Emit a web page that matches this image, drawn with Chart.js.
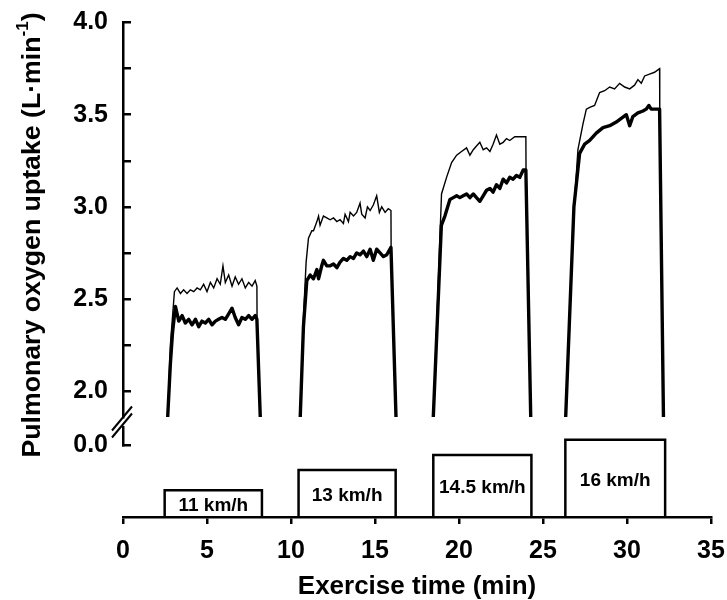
<!DOCTYPE html>
<html><head><meta charset="utf-8">
<script src="https://cdn.jsdelivr.net/npm/chart.js@4"></script>
<style>html,body{margin:0;padding:0;background:#fff}</style>
</head><body>
<canvas id="c" width="727" height="600"></canvas>
<script>
// ---- data ----
const xTicks = [0, 5, 10, 15, 20, 25, 30, 35];
const yTicks = [2.0, 2.25, 2.5, 2.75, 3.0, 3.25, 3.5, 3.75, 4.0];
const yTickLabels = ['2.0', '', '2.5', '', '3.0', '', '3.5', '', '4.0'];
const zeroTicks = [0];
const zeroTickLabels = ['0.0'];

const stageStart = [2.48, 10.45, 18.47, 26.33];
const stageEnd = [8.27, 16.23, 24.31, 32.27];
const stageSpeed = [11, 13, 14.5, 16];
const stageLabels = ['11 km/h', '13 km/h', '14.5 km/h', '16 km/h'];

const thinTime = [
  2.66, 2.82, 3.06, 3.22, 3.42, 3.61, 3.81, 4.01, 4.21, 4.41, 4.60, 4.80, 5.00, 5.20, 5.40, 5.60, 5.79, 5.95, 6.09, 6.29, 6.49, 6.68, 6.88, 7.08, 7.28, 7.48, 7.68, 7.87, 7.97, 7.98, 8.17, null,
  10.55, 10.74, 10.90, 11.04, 11.24, 11.34, 11.54, 11.64, 11.73, 11.93, 12.13, 12.33, 12.53, 12.73, 12.92, 13.12, 13.22, 13.42, 13.52, 13.72, 13.91, 14.11, 14.21, 14.41, 14.55, 14.71, 14.90, 15.10, 15.26, 15.40, 15.60, 15.79, 15.95, 15.96, 16.25, null,
  18.47, 18.96, 19.26, 19.56, 19.86, 20.15, 20.45, 20.65, 20.85, 21.04, 21.24, 21.44, 21.64, 21.84, 22.03, 22.23, 22.43, 22.63, 22.83, 23.02, 23.32, 23.62, 23.98, 23.99, 24.27, null,
  26.35, 26.84, 27.08, 27.38, 27.58, 27.78, 28.07, 28.37, 28.67, 28.97, 29.26, 29.56, 29.86, 30.16, 30.45, 30.65, 30.85, 31.05, 31.34, 31.64, 31.94, 31.95, 32.17
];
const thinVO2 = [
  1.86, 2.25, 2.54, 2.56, 2.53, 2.55, 2.53, 2.55, 2.54, 2.56, 2.55, 2.58, 2.54, 2.59, 2.56, 2.61, 2.58, 2.68, 2.59, 2.63, 2.57, 2.62, 2.58, 2.61, 2.56, 2.59, 2.57, 2.60, 2.57, 2.39, 1.86, null,
  1.86, 2.40, 2.70, 2.83, 2.87, 2.87, 2.92, 2.95, 2.90, 2.95, 2.94, 2.93, 2.94, 2.92, 2.93, 2.91, 2.96, 2.92, 2.97, 2.95, 2.97, 3.02, 2.96, 2.94, 3.00, 2.98, 3.01, 3.06, 2.97, 3.00, 2.97, 2.99, 2.98, 2.78, 1.86, null,
  1.86, 3.07, 3.16, 3.24, 3.28, 3.30, 3.32, 3.28, 3.31, 3.33, 3.35, 3.31, 3.32, 3.30, 3.34, 3.39, 3.34, 3.35, 3.37, 3.36, 3.38, 3.38, 3.38, 3.20, 1.86, null,
  1.86, 2.98, 3.31, 3.45, 3.53, 3.54, 3.55, 3.62, 3.63, 3.65, 3.64, 3.67, 3.65, 3.64, 3.66, 3.69, 3.67, 3.71, 3.72, 3.73, 3.75, 3.53, 1.86
];
const thickTime = [
  2.66, 2.82, 2.95, 3.12, 3.32, 3.52, 3.71, 3.91, 4.11, 4.31, 4.51, 4.70, 4.90, 5.10, 5.30, 5.50, 5.69, 5.89, 6.09, 6.29, 6.49, 6.68, 6.88, 7.08, 7.28, 7.48, 7.68, 7.87, 7.97, 8.17, null,
  10.55, 10.74, 10.94, 11.14, 11.34, 11.54, 11.64, 11.83, 11.93, 12.13, 12.33, 12.53, 12.73, 12.92, 13.12, 13.32, 13.52, 13.72, 13.91, 14.11, 14.31, 14.51, 14.71, 14.90, 15.10, 15.30, 15.50, 15.70, 15.95, 16.25, null,
  18.47, 18.95, 19.16, 19.46, 19.66, 19.86, 20.05, 20.25, 20.45, 20.65, 20.85, 21.04, 21.24, 21.44, 21.64, 21.84, 22.03, 22.23, 22.43, 22.63, 22.83, 23.02, 23.22, 23.42, 23.62, 23.82, 23.98, 24.27, null,
  26.35, 26.84, 27.18, 27.48, 27.78, 28.17, 28.57, 28.97, 29.36, 29.66, 29.96, 30.16, 30.35, 30.65, 30.95, 31.14, 31.30, 31.44, 31.74, 31.94, 32.17
];
const thickVO2 = [
  1.86, 2.15, 2.32, 2.46, 2.38, 2.41, 2.37, 2.39, 2.36, 2.39, 2.35, 2.38, 2.37, 2.39, 2.36, 2.38, 2.39, 2.40, 2.39, 2.42, 2.45, 2.40, 2.36, 2.40, 2.39, 2.41, 2.39, 2.41, 2.39, 1.86, null,
  1.86, 2.35, 2.60, 2.63, 2.61, 2.66, 2.61, 2.68, 2.71, 2.68, 2.68, 2.69, 2.67, 2.70, 2.72, 2.71, 2.73, 2.72, 2.75, 2.74, 2.76, 2.73, 2.77, 2.71, 2.77, 2.75, 2.73, 2.74, 2.78, 1.86, null,
  1.86, 2.90, 2.95, 3.04, 3.05, 3.06, 3.05, 3.06, 3.07, 3.05, 3.07, 3.05, 3.03, 3.06, 3.09, 3.10, 3.08, 3.12, 3.10, 3.15, 3.13, 3.16, 3.15, 3.17, 3.16, 3.20, 3.20, 1.86, null,
  1.86, 3.00, 3.29, 3.34, 3.36, 3.40, 3.43, 3.44, 3.46, 3.48, 3.50, 3.44, 3.49, 3.51, 3.52, 3.53, 3.55, 3.53, 3.53, 3.53, 1.86
];

// ---- config ----
const FONT = "'Liberation Sans', Arial, Helvetica, sans-serif";
const SPEED_MIN = 8.34, SPEED_MAX = 57.44;
const AXIS_W = 123;

const pts = (xs, ys) => xs.map((x, i) => ({x: x, y: ys[i]}));
const speedPts = [];
stageSpeed.forEach((s, i) => {
  speedPts.push({x: stageStart[i], y: SPEED_MIN}, {x: stageStart[i], y: s},
                {x: stageEnd[i], y: s}, {x: stageEnd[i], y: SPEED_MIN}, {x: stageEnd[i], y: null});
});

const noPad = s => { s.paddingTop = 0; s.paddingBottom = 0; s.paddingLeft = 0; s.paddingRight = 0; };
const fitY = s => { s.width = AXIS_W; noPad(s); };

const tickFont = {family: FONT, size: 25, weight: 'bold', lineHeight: 1.2};
const hiddenY = (w, order) => ({
  type: 'linear', position: 'left', stack: 'v', stackWeight: w, weight: order,
  ticks: {display: false}, grid: {display: false}, border: {display: false},
  afterFit: fitY
});

const breakPlugin = {
  id: 'breakMarks',
  afterDraw(chart) {
    const ctx = chart.ctx, yT = chart.scales.yTop, yZ = chart.scales.yZero;
    const x = chart.chartArea.left - 1, cy = (yT.bottom + yZ.top) / 2;
    ctx.save();
    ctx.strokeStyle = '#000'; ctx.lineWidth = 2;
    [-3.5, 3.5].forEach(d => {
      ctx.beginPath();
      ctx.moveTo(x - 10, cy + d + 12);
      ctx.lineTo(x + 10, cy + d - 12);
      ctx.stroke();
    });
    ctx.restore();
  }
};

const boxLabelPlugin = {
  id: 'boxLabels',
  afterDatasetsDraw(chart) {
    const ctx = chart.ctx, xs = chart.scales.x, ys = chart.scales.ySpeed;
    ctx.save();
    ctx.fillStyle = '#000';
    ctx.font = 'bold 19px ' + FONT;
    ctx.textAlign = 'center'; ctx.textBaseline = 'middle';
    stageLabels.forEach((t, i) => {
      const cx = xs.getPixelForValue((stageStart[i] + stageEnd[i]) / 2);
      const cy = (ys.getPixelForValue(stageSpeed[i]) + ys.getPixelForValue(SPEED_MIN)) / 2 + 2;
      ctx.fillText(t, cx, cy);
    });
    ctx.restore();
  }
};

const yTitlePlugin = {
  id: 'yTitle',
  afterDraw(chart) {
    const ctx = chart.ctx;
    const main = 'Pulmonary oxygen uptake (L\u00B7min', sup = '-1', close = ')';
    const mainFont = 'bold 26.7px ' + FONT, supFont = 'bold 17px ' + FONT;
    ctx.save();
    ctx.fillStyle = '#000';
    ctx.translate(40, 235);
    ctx.rotate(-Math.PI / 2);
    ctx.textBaseline = 'alphabetic'; ctx.textAlign = 'left';
    ctx.font = mainFont; const w1 = ctx.measureText(main).width; const w3 = ctx.measureText(close).width;
    ctx.font = supFont; const w2 = ctx.measureText(sup).width;
    let x0 = -(w1 + w2 + w3) / 2;
    ctx.font = mainFont; ctx.fillText(main, x0, 0);
    ctx.font = supFont; ctx.fillText(sup, x0 + w1, -12);
    ctx.font = mainFont; ctx.fillText(close, x0 + w1 + w2, 0);
    ctx.restore();
  }
};

new Chart(document.getElementById('c'), {
  type: 'line',
  data: {
    datasets: [
      {label: 'thin', data: pts(thinTime, thinVO2), xAxisID: 'x', yAxisID: 'yTop',
       borderColor: '#000', borderWidth: 1.4, pointRadius: 0, tension: 0, fill: false, spanGaps: false},
      {label: 'thick', data: pts(thickTime, thickVO2), xAxisID: 'x', yAxisID: 'yTop',
       borderColor: '#000', borderWidth: 3.4, pointRadius: 0, tension: 0, fill: false, spanGaps: false,
       borderJoinStyle: 'round'},
      {label: 'speed', data: speedPts, xAxisID: 'x', yAxisID: 'ySpeed',
       borderColor: '#000', borderWidth: 2.5, pointRadius: 0, tension: 0, fill: false, spanGaps: false}
    ]
  },
  options: {
    responsive: false, animation: false, devicePixelRatio: 1,
    layout: {padding: {left: 0, right: 16, top: 22.5, bottom: 0}},
    plugins: {legend: {display: false}, tooltip: {enabled: false}},
    scales: {
      x: {
        type: 'linear', position: 'bottom', min: 0, max: 35,
        afterBuildTicks: s => { s.ticks = xTicks.map(v => ({value: v})); },
        ticks: {font: tickFont, color: '#000', padding: 12, autoSkip: false, maxRotation: 0,
                callback: v => String(v)},
        grid: {drawOnChartArea: false, drawTicks: true, tickLength: 7, lineWidth: 2.5, color: '#000'},
        border: {display: true, width: 2.5, color: '#000'},
        title: {display: true, text: 'Exercise time (min)', color: '#000',
                font: {family: FONT, size: 26, weight: 'bold', lineHeight: 1.0}, padding: {top: 0, bottom: 0}},
        afterFit: s => { s.height = 83; noPad(s); }
      },
      yTop: {
        type: 'linear', position: 'left', stack: 'v', stackWeight: 394.5, weight: 4,
        min: 1.86, max: 4.0,
        afterBuildTicks: s => { s.ticks = yTicks.map(v => ({value: v})); },
        ticks: {font: tickFont, color: '#000', padding: 23, autoSkip: false,
                callback: (v, i) => yTickLabels[i]},
        grid: {drawOnChartArea: false, drawTicks: true, tickLength: -8, lineWidth: 2.5, color: '#000'},
        border: {display: true, width: 2.5, color: '#000'},
        afterFit: fitY
      },
      yGap: hiddenY(10, 3),
      yZero: {
        type: 'linear', position: 'left', stack: 'v', stackWeight: 18, weight: 2,
        min: 0, max: 1,
        afterBuildTicks: s => { s.ticks = zeroTicks.map(v => ({value: v})); },
        ticks: {font: tickFont, color: '#000', padding: 23, autoSkip: false,
                callback: (v, i) => zeroTickLabels[i]},
        grid: {drawOnChartArea: false, drawTicks: true, tickLength: -8, lineWidth: 2.5, color: '#000'},
        border: {display: true, width: 2.5, color: '#000'},
        afterFit: fitY
      },
      yBase: hiddenY(72, 1),
      ySpeed: {type: 'linear', position: 'right', display: false, min: SPEED_MIN, max: SPEED_MAX}
    }
  },
  plugins: [breakPlugin, boxLabelPlugin, yTitlePlugin]
});
</script>
</body></html>
